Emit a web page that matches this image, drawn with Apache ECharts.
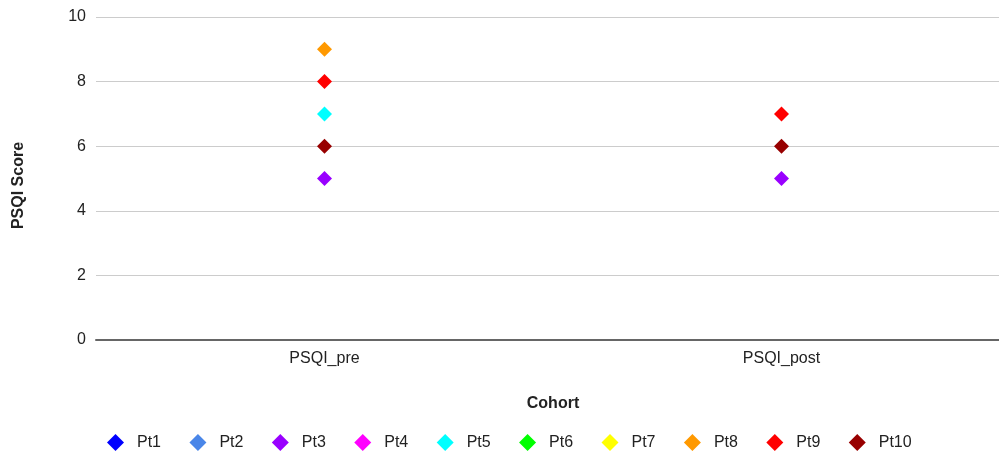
<!DOCTYPE html>
<html>
<head>
<meta charset="utf-8">
<script src="https://cdn.jsdelivr.net/npm/echarts@6/dist/echarts.min.js"></script>
<style>
  html, body { margin: 0; padding: 0; background: #fff; overflow: hidden; }
  /* drawing surface is a little wider than the window; the plot area runs past the right edge */
  #chart { width: 1012px; height: 455px; }
</style>
</head>
<body>
<div id="chart"></div>
<script>
// Cohort categories on the x axis
const cohorts = ['PSQI_pre', 'PSQI_post'];

// PSQI score per patient, one value per cohort (null = no point)
const pt1 = [null, null];
const pt2 = [null, null];
const pt3 = [5, 5];
const pt4 = [null, null];
const pt5 = [7, null];
const pt6 = [null, null];
const pt7 = [null, null];
const pt8 = [9, null];
const pt9 = [8, 7];
const pt10 = [6, 6];

const patientNames = ['Pt1', 'Pt2', 'Pt3', 'Pt4', 'Pt5', 'Pt6', 'Pt7', 'Pt8', 'Pt9', 'Pt10'];
const patientValues = [pt1, pt2, pt3, pt4, pt5, pt6, pt7, pt8, pt9, pt10];
const patientColors = ['#0000ff', '#4a86e8', '#9900ff', '#ff00ff', '#00ffff',
                       '#00ff00', '#ffff00', '#ff9900', '#ff0000', '#980000'];

const font = 'Liberation Sans, Arial, sans-serif';

const chart = echarts.init(document.getElementById('chart'), null, { renderer: 'canvas' });

chart.setOption({
  animation: false,
  backgroundColor: '#ffffff',
  color: patientColors,
  textStyle: { fontFamily: font },
  grid: { left: 96, right: 2, top: 17, bottom: 115, containLabel: false },
  legend: {
    left: 102,
    top: 429,
    icon: 'diamond',
    itemWidth: 17,
    itemHeight: 17,
    itemGap: 28.4,
    textStyle: {
      fontFamily: font,
      fontSize: 16,
      color: '#222',
      padding: [0, 0, 0, 8]
    },
    data: patientNames
  },
  xAxis: {
    type: 'category',
    data: cohorts,
    boundaryGap: true,
    name: 'Cohort',
    nameLocation: 'middle',
    nameGap: 56,
    nameTextStyle: { fontFamily: font, fontSize: 16, fontWeight: 'bold', color: '#222' },
    axisLine: { lineStyle: { color: '#666', width: 2 } },
    axisTick: { show: false },
    axisLabel: { fontFamily: font, fontSize: 16, color: '#222', margin: 11 },
    splitLine: { show: false }
  },
  yAxis: {
    type: 'value',
    min: 0,
    max: 10,
    interval: 2,
    name: 'PSQI Score',
    nameLocation: 'middle',
    nameGap: 69,
    nameRotate: 90,
    nameTextStyle: { fontFamily: font, fontSize: 16, fontWeight: 'bold', color: '#222', padding: [0, 14, 0, 0] },
    axisLine: { show: false },
    axisTick: { show: false },
    axisLabel: { fontFamily: font, fontSize: 16, color: '#222', margin: 10 },
    splitLine: { lineStyle: { color: '#cccccc', width: 1 } }
  },
  series: patientNames.map((name, i) => ({
    name: name,
    type: 'scatter',
    symbol: 'diamond',
    symbolSize: 15,
    data: patientValues[i],
    itemStyle: { color: patientColors[i], opacity: 1 }
  }))
});
</script>
</body>
</html>
